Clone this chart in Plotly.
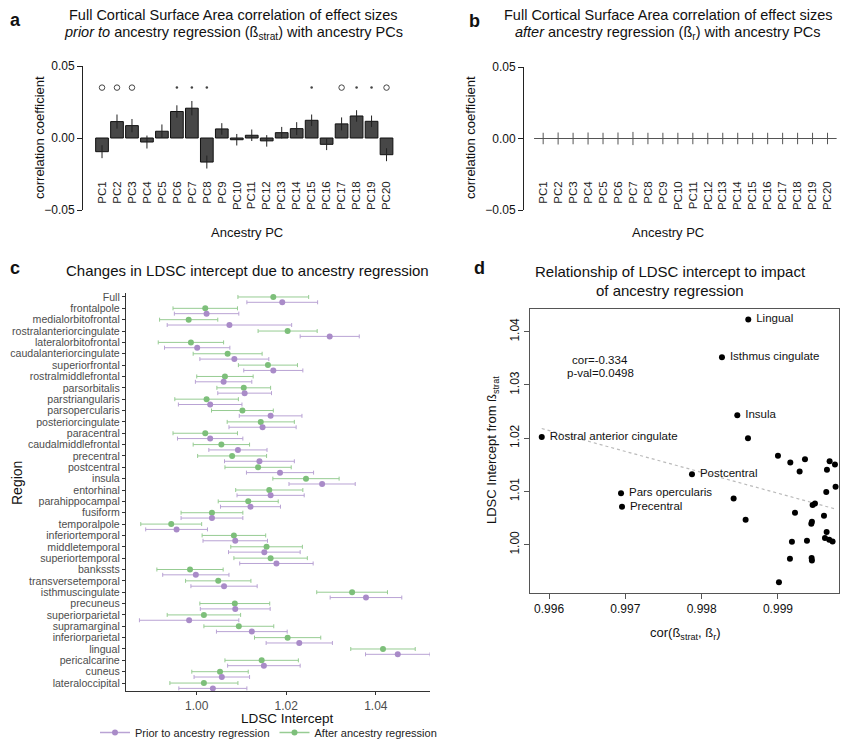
import numpy as np
import plotly.graph_objects as go

FW, FH = 834, 739      # figure size (page body adds an 8px margin)
OFF = 8
FONT = "Liberation Sans, Arial, sans-serif"

# ---------------- Panel a / b data ----------------
pcs = ["PC1", "PC2", "PC3", "PC4", "PC5", "PC6", "PC7", "PC8", "PC9", "PC10",
       "PC11", "PC12", "PC13", "PC14", "PC15", "PC16", "PC17", "PC18", "PC19", "PC20"]
corr_prior = [-0.0095, 0.0114, 0.0086, -0.0028, 0.0047, 0.0184, 0.0207, -0.0167, 0.0063, -0.0012,
              0.0019, -0.0020, 0.0037, 0.0065, 0.0123, -0.0044, 0.0098, 0.0153, 0.0116, -0.0116]
err_prior = [0.0045, 0.0049, 0.0046, 0.0045, 0.0047, 0.0043, 0.0050, 0.0045, 0.0040, 0.0040,
             0.0040, 0.0040, 0.0040, 0.0045, 0.0040, 0.0040, 0.0045, 0.0040, 0.0040, 0.0045]
sig_prior = ["o", "o", "o", "", "", "*", "*", "*", "", "", "", "", "", "", "*", "", "o", "*", "*", "o"]
corr_after = [0.0, 0.0, 0.0, 0.0, 0.0, 0.0, 0.0, 0.0, 0.0, 0.0,
              0.0, 0.0, 0.0, 0.0, 0.0, 0.0, 0.0, 0.0, 0.0, 0.0]
err_after = [0.0040, 0.0042, 0.0040, 0.0042, 0.0040, 0.0042, 0.0046, 0.0040, 0.0040, 0.0040,
             0.0040, 0.0040, 0.0040, 0.0040, 0.0040, 0.0040, 0.0040, 0.0040, 0.0040, 0.0040]
SIG_LEVEL = 0.035

# ---------------- Panel c data ----------------
regions = ["Full", "frontalpole", "medialorbitofrontal", "rostralanteriorcingulate", "lateralorbitofrontal",
           "caudalanteriorcingulate", "superiorfrontal", "rostralmiddlefrontal", "parsorbitalis",
           "parstriangularis", "parsopercularis", "posteriorcingulate", "paracentral",
           "caudalmiddlefrontal", "precentral", "postcentral", "insula", "entorhinal",
           "parahippocampal", "fusiform", "temporalpole", "inferiortemporal", "middletemporal",
           "superiortemporal", "bankssts", "transversetemporal", "isthmuscingulate", "precuneus",
           "superiorparietal", "supramarginal", "inferiorparietal", "lingual", "pericalcarine",
           "cuneus", "lateraloccipital"]
after_int = [1.0171, 1.0019, 0.9982, 1.0203, 0.9987, 1.0069, 1.0159, 1.0063, 1.0105, 1.0022,
             1.0102, 1.0143, 1.0019, 1.0055, 1.0079, 1.0137, 1.0244, 1.0162, 1.0115, 1.0034,
             0.9943, 1.0083, 1.0156, 1.0165, 0.9985, 1.0048, 1.0347, 1.0085, 1.0016, 1.0094,
             1.0203, 1.0416, 1.0145, 1.0052, 1.0016]
after_err = [0.0079, 0.0072, 0.0065, 0.0066, 0.0073, 0.0077, 0.0066, 0.0063, 0.0060, 0.0071,
             0.0069, 0.0075, 0.0072, 0.0063, 0.0077, 0.0074, 0.0074, 0.0075, 0.0067, 0.0069,
             0.0068, 0.0071, 0.0080, 0.0082, 0.0074, 0.0073, 0.0079, 0.0078, 0.0082, 0.0078,
             0.0074, 0.0072, 0.0082, 0.0063, 0.0076]
prior_int = [1.0191, 1.0022, 1.0073, 1.0297, 1.0001, 1.0084, 1.0171, 1.0060, 1.0107, 1.0030,
             1.0165, 1.0147, 1.0030, 1.0092, 1.0140, 1.0186, 1.0280, 1.0165, 1.0120, 1.0034,
             0.9955, 1.0086, 1.0151, 1.0178, 0.9998, 1.0061, 1.0378, 1.0086, 0.9983, 1.0123,
             1.0229, 1.0449, 1.0150, 1.0056, 1.0036]
prior_err = [0.0079, 0.0072, 0.0139, 0.0066, 0.0073, 0.0077, 0.0066, 0.0063, 0.0060, 0.0071,
             0.0070, 0.0075, 0.0073, 0.0065, 0.0078, 0.0075, 0.0074, 0.0075, 0.0067, 0.0069,
             0.0069, 0.0072, 0.0080, 0.0082, 0.0074, 0.0074, 0.0080, 0.0078, 0.0111, 0.0079,
             0.0074, 0.0072, 0.0081, 0.0062, 0.0076]

# ---------------- Panel d data ----------------
cor_beta = [0.998611, 0.998266, 0.998467, 0.995904, 0.998607, 0.999000, 0.999162, 0.999354,
            0.999284, 0.999677, 0.999747, 0.999642, 0.997873, 0.999755, 0.996943, 0.999633,
            0.998419, 0.996956, 0.999485, 0.999454, 0.999223, 0.999603, 0.998576, 0.999445,
            0.999437, 0.999638, 0.999616, 0.999672, 0.999716, 0.999183, 0.999380, 0.999157,
            0.999441, 0.999445, 0.999013]
ldsc_strat = [1.04231, 1.03519, 1.02431, 1.02025, 1.02000, 1.01669, 1.01544, 1.01606,
              1.01375, 1.01569, 1.01506, 1.01406, 1.01325, 1.01088, 1.00969, 1.00988,
              1.00869, 1.00713, 1.00775, 1.00744, 1.00600, 1.00544, 1.00469, 1.00431,
              1.00394, 1.00238, 1.00125, 1.00094, 1.00063, 1.00056, 1.00075, 0.99738,
              0.99750, 0.99706, 0.99294]
point_labels = ["Lingual", "Isthmus cingulate", "Insula", "Rostral anterior cingulate", "", "", "", "",
                "", "", "", "", "Postcentral", "", "Pars opercularis", "",
                "", "Precentral", "", "", "", "", "", "",
                "", "", "", "", "", "", "", "",
                "", "", ""]
cor_lines = ["cor=-0.334", "p-val=0.0498"]

PURPLE = "#a98bc8"
PURPLE_L = "#b9a3d4"
GREEN = "#7dbf7a"
GREEN_L = "#97cc93"
AXC = "#333333"


def px(x):
    """reference-screen x pixel -> paper fraction"""
    return (x - OFF) / FW


def py(y):
    """reference-screen y pixel -> paper fraction"""
    return 1 - (y - OFF) / FH


fig = go.Figure()

# ---- Panel a ----
fig.add_trace(go.Bar(
    x=pcs, y=corr_prior, width=0.85,
    marker=dict(color="#474747", line=dict(color="#111111", width=1)),
    error_y=dict(type="data", array=err_prior, width=0, thickness=1, color="#222222"),
    xaxis="x", yaxis="y", showlegend=False))
o_x = [p for p, s in zip(pcs, sig_prior) if s == "o"]
s_x = [p for p, s in zip(pcs, sig_prior) if s == "*"]
fig.add_trace(go.Scatter(x=o_x, y=[SIG_LEVEL] * len(o_x), mode="markers",
                         marker=dict(symbol="circle-open", size=5.5, color="#444", line=dict(width=1)),
                         xaxis="x", yaxis="y", showlegend=False))
fig.add_trace(go.Scatter(x=s_x, y=[SIG_LEVEL] * len(s_x), mode="markers",
                         marker=dict(symbol="circle", size=2.5, color="#444"),
                         xaxis="x", yaxis="y", showlegend=False))

# ---- Panel b ----
fig.add_trace(go.Scatter(
    x=pcs, y=corr_after, mode="markers",
    marker=dict(symbol="line-ew", size=13, color="#555", line=dict(color="#555", width=1)),
    error_y=dict(type="data", array=err_after, width=0, thickness=1, color="#555"),
    xaxis="x2", yaxis="y2", showlegend=False))

# ---- Panel c ----
idx = np.arange(len(regions))
fig.add_trace(go.Scatter(
    x=after_int, y=idx, mode="markers",
    marker=dict(color=GREEN, size=6),
    error_x=dict(type="data", array=after_err, width=2, thickness=1, color=GREEN_L),
    xaxis="x3", yaxis="y3", showlegend=False))
fig.add_trace(go.Scatter(
    x=prior_int, y=idx + 0.47, mode="markers",
    marker=dict(color=PURPLE, size=6),
    error_x=dict(type="data", array=prior_err, width=2, thickness=1, color=PURPLE_L),
    xaxis="x3", yaxis="y3", showlegend=False))
fig.add_trace(go.Scatter(x=[None], y=[None], mode="lines+markers", name="Prior to ancestry regression",
                         line=dict(color=PURPLE_L, width=1.5), marker=dict(color=PURPLE, size=6),
                         xaxis="x3", yaxis="y3"))
fig.add_trace(go.Scatter(x=[None], y=[None], mode="lines+markers", name="After ancestry regression",
                         line=dict(color=GREEN_L, width=1.5), marker=dict(color=GREEN, size=6),
                         xaxis="x3", yaxis="y3"))

# ---- Panel d ----
coef = np.polyfit(cor_beta, ldsc_strat, 1)
xl = np.array([min(cor_beta), max(cor_beta)])
fig.add_trace(go.Scatter(x=xl, y=np.polyval(coef, xl), mode="lines",
                         line=dict(color="#bbbbbb", width=1.2, dash="dot"),
                         xaxis="x4", yaxis="y4", showlegend=False))
fig.add_trace(go.Scatter(
    x=cor_beta, y=ldsc_strat, mode="markers+text",
    text=[(" " + t) if t else "" for t in point_labels], textposition="middle right",
    textfont=dict(family=FONT, size=11.5, color="#111"),
    marker=dict(color="#000", size=6),
    xaxis="x4", yaxis="y4", showlegend=False))

tick_font = dict(family=FONT, size=12, color="#111")
pc_font = dict(family=FONT, size=11.5, color="#222")

layout = dict(
    width=FW, height=FH,
    margin=dict(l=0, r=0, t=0, b=0, autoexpand=False),
    paper_bgcolor="white", plot_bgcolor="white",
    font=dict(family=FONT, color="#111"),
    # panel a
    xaxis=dict(domain=[px(83), px(400)], range=[-1.27, 19.9], type="category",
               anchor="free", position=py(178), showline=False, ticks="", showgrid=False,
               zeroline=False, tickangle=-90, tickfont=pc_font),
    yaxis=dict(domain=[py(210), py(66)], range=[-0.05, 0.05], anchor="x",
               tickvals=[-0.05, 0, 0.05], ticktext=["\u22120.05", "0.00", "0.05"],
               showline=True, linecolor="#222", linewidth=1, ticks="outside", ticklen=5,
               tickcolor="#222", showgrid=False, zeroline=False, tickfont=tick_font),
    # panel b
    xaxis2=dict(domain=[px(524), px(841)], range=[-1.28, 19.9], type="category",
                anchor="free", position=py(178), showline=False, ticks="", showgrid=False,
                zeroline=False, tickangle=-90, tickfont=pc_font),
    yaxis2=dict(domain=[py(210), py(67)], range=[-0.05, 0.05], anchor="x2",
                tickvals=[-0.05, 0, 0.05], ticktext=["\u22120.05", "0.00", "0.05"],
                showline=True, linecolor="#222", linewidth=1, ticks="outside", ticklen=5,
                tickcolor="#222", showgrid=False, zeroline=False, tickfont=tick_font),
    # panel c
    xaxis3=dict(domain=[px(126), px(430)], range=[0.9842, 1.0521], anchor="y3",
                tickvals=[1.00, 1.02, 1.04], ticktext=["1.00", "1.02", "1.04"],
                showline=True, linecolor=AXC, linewidth=1.2, ticks="outside", ticklen=3,
                tickcolor=AXC, showgrid=False, zeroline=False,
                tickfont=dict(family=FONT, size=12, color="#4d4d4d")),
    yaxis3=dict(domain=[py(691), py(293)], range=[34.7, -0.35], anchor="x3",
                tickvals=list(idx), ticktext=regions,
                showline=True, linecolor=AXC, linewidth=1.2, ticks="outside", ticklen=3,
                tickcolor=AXC, showgrid=False, zeroline=False,
                tickfont=dict(family=FONT, size=10.6, color="#4d4d4d")),
    # panel d
    xaxis4=dict(domain=[px(530), px(839)], range=[0.99575, 0.99980], anchor="y4",
                tickvals=[0.996, 0.997, 0.998, 0.999],
                ticktext=["0.996", "0.997", "0.998", "0.999"],
                showline=True, mirror=True, linecolor="#555", linewidth=1, ticks="outside",
                ticklen=5, tickcolor="#555", showgrid=False, zeroline=False, tickfont=tick_font),
    yaxis4=dict(domain=[py(593), py(309)], range=[0.99094, 1.04426], anchor="x4",
                tickvals=[1.00, 1.01, 1.02, 1.03, 1.04],
                ticktext=["1.00", "1.01", "1.02", "1.03", "1.04"], tickangle=-90,
                showline=True, mirror=True, linecolor="#555", linewidth=1, ticks="outside",
                ticklen=5, tickcolor="#555", showgrid=False, zeroline=False, tickfont=tick_font),
    legend=dict(orientation="h", x=px(95), y=0, xanchor="left", yanchor="bottom",
                font=dict(family=FONT, size=11, color="#222"), itemwidth=30,
                bgcolor="rgba(0,0,0,0)"),
)

ann = []


def A(text, x, y, size=13, angle=0, bold=False, xanchor="center", yanchor="middle", color="#111"):
    if bold:
        text = "<b>" + text + "</b>"
    ann.append(dict(text=text, x=px(x), y=py(y), xref="paper", yref="paper", showarrow=False,
                    font=dict(family=FONT, size=size, color=color), textangle=angle,
                    xanchor=xanchor, yanchor=yanchor))


# panel letters
A("a", 15, 20, size=18, bold=True)
A("b", 475, 21, size=18, bold=True)
A("c", 15, 268, size=18, bold=True)
A("d", 479, 268, size=18, bold=True)

# titles (one annotation per line)
A("Full Cortical Surface Area correlation of effect sizes", 233, 15, size=14.5)
A("<i>prior to</i> ancestry regression (ß<sub>strat</sub>) with ancestry PCs", 233, 33, size=14.5)
A("Full Cortical Surface Area correlation of effect sizes", 668, 15, size=14.5)
A("<i>after</i> ancestry regression (ß<sub>r</sub>) with ancestry PCs", 668, 33, size=14.5)
A("Changes in LDSC intercept due to ancestry regression", 247, 270, size=15)
A("Relationship of LDSC intercept to impact", 670, 271, size=15)
A("of ancestry regression", 670, 291, size=15)

# axis titles
A("correlation coefficient", 39, 138, size=13, angle=-90)
A("correlation coefficient", 470, 138, size=13, angle=-90)
A("Ancestry PC", 247, 232, size=13)
A("Ancestry PC", 668, 232, size=13)
A("Region", 17, 483, size=14, angle=-90)
A("LDSC Intercept", 287, 718, size=13.5)
A("LDSC Intercept from ß<sub>strat</sub>", 492, 450, size=13, angle=-90)
A("cor(ß<sub>strat</sub>, ß<sub>r</sub>)", 685, 633, size=13)
A(cor_lines[0], 600, 360, size=11.5)
A(cor_lines[1], 600, 373, size=11.5)

layout["annotations"] = ann
fig.update_layout(**layout)
fig.write_html("out.html")
